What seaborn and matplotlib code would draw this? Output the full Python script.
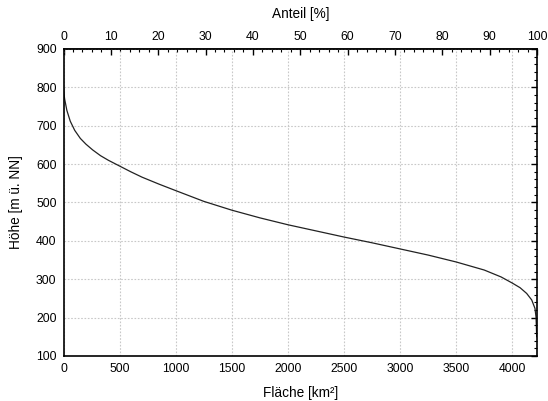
import matplotlib
matplotlib.use("Agg")
import matplotlib.pyplot as plt
from matplotlib.ticker import MultipleLocator
import seaborn as sns
import pandas as pd

# Data (hypsometric curve)
area_km2 = [0, 4, 10, 30, 60, 100, 150, 200, 260, 330, 400, 500, 600, 700, 850,
            1000, 1250, 1500, 1750, 2000, 2250, 2500, 2750, 3000, 3250, 3500,
            3750, 3900, 4000, 4069, 4128, 4173, 4202, 4211, 4214, 4217]
height_m = [800, 785, 770, 740, 712, 688, 667, 652, 637, 622, 610, 595, 580, 566, 548,
            531, 503, 480, 460, 442, 426, 410, 395, 379, 363, 345,
            324, 306, 290, 278, 263, 246, 224, 202, 180, 150]
total_area = 4220

x_ticks = [0, 500, 1000, 1500, 2000, 2500, 3000, 3500, 4000]
y_ticks = [100, 200, 300, 400, 500, 600, 700, 800, 900]
pct_ticks = [0, 10, 20, 30, 40, 50, 60, 70, 80, 90, 100]

df = pd.DataFrame({"Fläche": area_km2, "Höhe": height_m})

sns.set_theme(style="white")
plt.rcParams['font.family'] = ['Liberation Sans', 'DejaVu Sans']

fig = plt.figure(figsize=(5.48, 4.01), dpi=100)
ax = fig.add_axes([63.5/548, 45/401, (537-63.5)/548, (356-49)/401])

sns.lineplot(data=df, x="Fläche", y="Höhe", ax=ax, color="#222222",
             linewidth=0.9, estimator=None, sort=False)

ax.set_xlim(0, total_area)
ax.set_ylim(100, 900)
ax.set_xticks(x_ticks)
ax.set_yticks(y_ticks)
ax.xaxis.set_minor_locator(MultipleLocator(100))
ax.yaxis.set_minor_locator(MultipleLocator(20))
ax.grid(True, which="major", color="#c8c8c8", linestyle=(0, (1.5, 1.5)), linewidth=0.8)

ax.tick_params(axis="both", which="major", direction="in", length=4, width=1,
               labelsize=8.8, color="black", labelcolor="black",
               top=False, right=True, pad=5)
ax.tick_params(axis="both", which="minor", direction="in", length=2, width=0.8,
               color="black", top=False, right=True)
for s in ax.spines.values():
    s.set_color("black")
    s.set_linewidth(1.2)

ax.set_xlabel("Fläche [km²]", fontsize=9.8, color="black", labelpad=8)
ax.set_ylabel("Höhe [m ü. NN]", fontsize=9.8, color="black", labelpad=9)

sec = ax.secondary_xaxis("top", functions=(lambda x: x / total_area * 100,
                                           lambda p: p * total_area / 100))
sec.set_xticks(pct_ticks)
sec.xaxis.set_minor_locator(MultipleLocator(2))
sec.tick_params(axis="x", which="major", direction="in", length=4, width=1,
                labelsize=8.8, color="black", labelcolor="black", pad=4)
sec.tick_params(axis="x", which="minor", direction="in", length=2, width=0.8,
                color="black")
sec.spines["top"].set_linewidth(1.2)
sec.set_xlabel("Anteil [%]", fontsize=9.8, color="black", labelpad=10)

fig.savefig("out.png", dpi=100)
